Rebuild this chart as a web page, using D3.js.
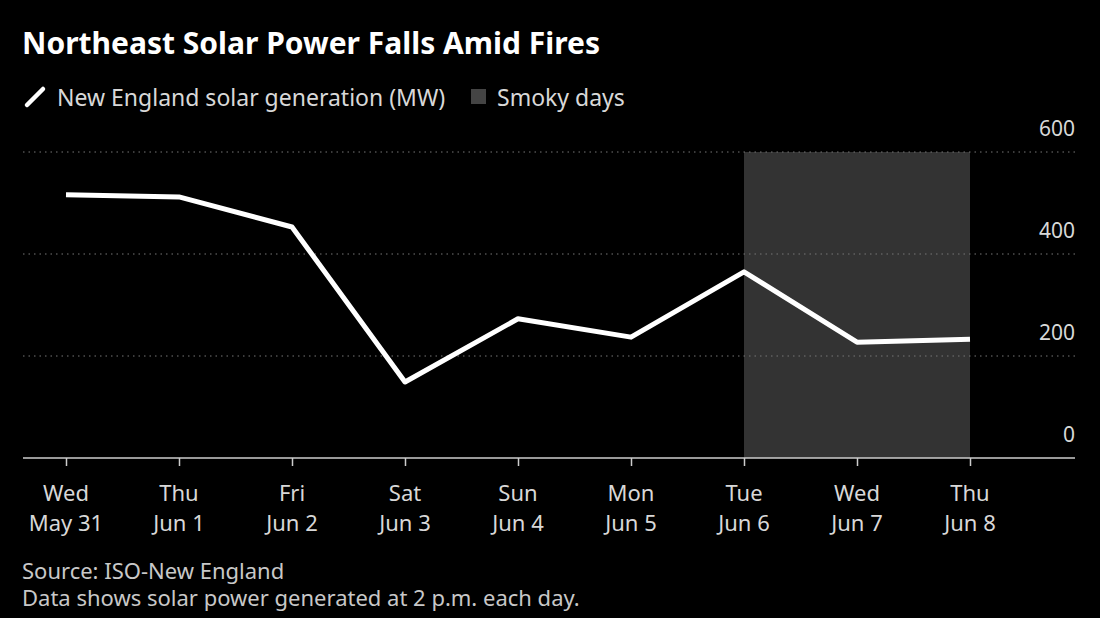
<!DOCTYPE html>
<html>
<head>
<meta charset="utf-8">
<script src="https://cdn.jsdelivr.net/npm/d3@7"></script>
<style>
  html, body { margin: 0; padding: 0; background: #000; }
  svg { display: block; }
</style>
</head>
<body>
<svg id="chart" width="1100" height="618"></svg>
<script>
// day labels (two lines each)
var days = ['Wed', 'Thu', 'Fri', 'Sat', 'Sun', 'Mon', 'Tue', 'Wed', 'Thu'];
var dates = ['May 31', 'Jun 1', 'Jun 2', 'Jun 3', 'Jun 4', 'Jun 5', 'Jun 6', 'Jun 7', 'Jun 8'];
// MW at 2 p.m. each day
var solarMW = [516, 512, 453, 149, 273, 237, 365, 227, 233];
var yTicks = [0, 200, 400, 600];
var smokyDays = ['Jun 6', 'Jun 8'];

var svg = d3.select('#chart');
var font = '"Noto Sans", "Open Sans", sans-serif';

var plotLeft = 23, plotRight = 1075, plotTop = 152, plotBottom = 458;

var x = d3.scalePoint()
	.domain(dates)
	.range([66, 970]);

var y = d3.scaleLinear()
	.domain([0, 600])
	.range([plotBottom, plotTop]);

svg.append('rect')
	.attr('width', 1100).attr('height', 618)
	.attr('fill', '#000');

// smoky days shading
svg.append('rect')
	.attr('x', x(smokyDays[0]))
	.attr('y', y(600))
	.attr('width', x(smokyDays[1]) - x(smokyDays[0]))
	.attr('height', y(0) - y(600))
	.attr('fill', '#333333');

// dotted gridlines
var grid = svg.append('g');
grid.selectAll('line')
	.data(yTicks.filter(function(d){ return d > 0; }))
	.enter().append('line')
	.attr('x1', plotLeft).attr('x2', plotRight)
	.attr('y1', function(d){ return y(d); })
	.attr('y2', function(d){ return y(d); })
	.attr('stroke', '#777')
	.attr('stroke-width', 1)
	.attr('stroke-dasharray', '1.5,4');

// y labels sit above their gridline
svg.append('g').selectAll('text')
	.data(yTicks)
	.enter().append('text')
	.attr('x', plotRight)
	.attr('y', function(d){ return y(d) - 16; })
	.attr('text-anchor', 'end')
	.attr('fill', '#d8d8d8')
	.attr('font-family', font)
	.attr('font-size', 21)
	.text(function(d){ return d; });

// x axis
var xAxis = svg.append('g')
	.attr('transform', 'translate(0,' + plotBottom + ')')
	.call(d3.axisBottom(x).tickSize(8).tickFormat(''));
xAxis.select('.domain').remove();
xAxis.selectAll('.tick line').attr('stroke', '#ccc').attr('stroke-width', 1.5);

svg.append('line')
	.attr('x1', plotLeft).attr('x2', plotRight)
	.attr('y1', plotBottom).attr('y2', plotBottom)
	.attr('stroke', '#ccc')
	.attr('stroke-width', 1.5);

var xl = svg.append('g').selectAll('text')
	.data(dates)
	.enter().append('text')
	.attr('x', function(d){ return x(d); })
	.attr('text-anchor', 'middle')
	.attr('fill', '#d8d8d8')
	.attr('font-family', font)
	.attr('font-size', 22);
xl.append('tspan')
	.attr('x', function(d){ return x(d); })
	.attr('y', 501)
	.text(function(d, i){ return days[i]; });
xl.append('tspan')
	.attr('x', function(d){ return x(d); })
	.attr('y', 531)
	.text(function(d){ return d; });

// the line
var line = d3.line()
	.x(function(d, i){ return x(dates[i]); })
	.y(function(d){ return y(d); });

svg.append('path')
	.datum(solarMW)
	.attr('d', line)
	.attr('fill', 'none')
	.attr('stroke', '#fff')
	.attr('stroke-width', 5)
	.attr('stroke-linejoin', 'round');

// title
svg.append('text')
	.attr('x', 22).attr('y', 54)
	.attr('fill', '#fff')
	.attr('font-family', font)
	.attr('font-weight', 700)
	.attr('font-size', 30)
	.text('Northeast Solar Power Falls Amid Fires');

// legend
svg.append('line')
	.attr('x1', 27).attr('y1', 105)
	.attr('x2', 43).attr('y2', 89)
	.attr('stroke', '#fff')
	.attr('stroke-width', 4.5)
	.attr('stroke-linecap', 'round');

svg.append('text')
	.attr('x', 57).attr('y', 106)
	.attr('fill', '#d8d8d8')
	.attr('font-family', font)
	.attr('font-size', 23)
	.text('New England solar generation (MW)');

svg.append('rect')
	.attr('x', 471).attr('y', 89)
	.attr('width', 15).attr('height', 15)
	.attr('fill', '#444');

svg.append('text')
	.attr('x', 497).attr('y', 106)
	.attr('fill', '#d8d8d8')
	.attr('font-family', font)
	.attr('font-size', 23)
	.text('Smoky days');

// footer
svg.append('text')
	.attr('x', 22).attr('y', 579)
	.attr('fill', '#c8c8c8')
	.attr('font-family', font)
	.attr('font-size', 22)
	.text('Source: ISO-New England');

svg.append('text')
	.attr('x', 22).attr('y', 606)
	.attr('fill', '#c8c8c8')
	.attr('font-family', font)
	.attr('font-size', 22)
	.text('Data shows solar power generated at 2 p.m. each day.');
</script>
</body>
</html>
